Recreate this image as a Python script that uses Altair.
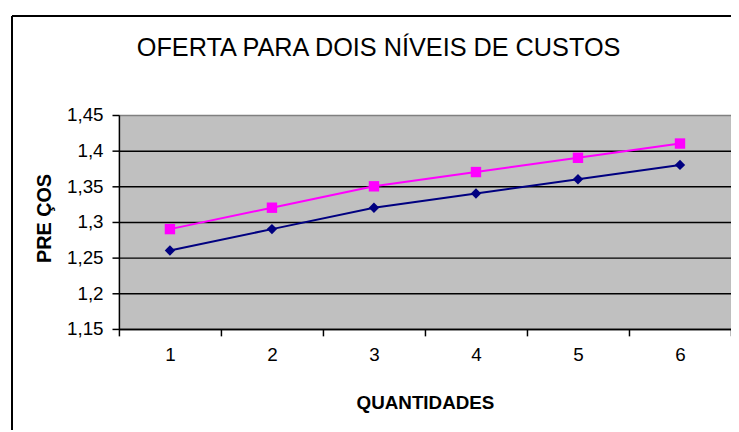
import altair as alt
import pandas as pd

titulo = "OFERTA PARA DOIS NÍVEIS DE CUSTOS"
quantidades = ["1", "2", "3", "4", "5", "6"]
custo_baixo = [1.26, 1.29, 1.32, 1.34, 1.36, 1.38]
custo_alto = [1.29, 1.32, 1.35, 1.37, 1.39, 1.41]
y_ticks = [1.15, 1.2, 1.25, 1.3, 1.35, 1.4, 1.45]

df = pd.DataFrame({
    "q": quantidades * 2,
    "p": custo_baixo + custo_alto,
    "serie": ["baixo"] * 6 + ["alto"] * 6,
})

FONT = "Liberation Sans, Arial, sans-serif"

x = alt.X("q:O", sort=quantidades,
          scale=alt.Scale(type="band", paddingInner=0, paddingOuter=0),
          axis=alt.Axis(title="QUANTIDADES", labelAngle=0, tickBand="extent",
                        labelFontSize=19, labelPadding=10, labelFont=FONT, labelColor="black",
                        titleFont=FONT, titleFontSize=19, titleFontWeight="bold",
                        titleColor="black", titleY=80, titleBaseline="alphabetic",
                        domainColor="black", domainWidth=1.5, tickColor="black",
                        tickSize=7, tickWidth=1.5, grid=False))
y = alt.Y("p:Q", scale=alt.Scale(domain=[1.15, 1.45], nice=False, zero=False),
          axis=alt.Axis(title="PRE ÇOS", values=y_ticks,
                        labelExpr="replace(format(datum.value, '.2~f'), '.', ',')",
                        labelFontSize=19, labelPadding=9, labelFont=FONT, labelColor="black",
                        titleFont=FONT, titleFontSize=20, titleFontWeight="bold",
                        titleColor="black", titleAngle=-90, titleX=-75, titleY=104,
                        titleBaseline="middle", titleAlign="center",
                        domainColor="black", domainWidth=1.5, tickColor="black",
                        tickSize=7, tickWidth=1.5, grid=True,
                        gridColor=alt.condition("datum.value >= 1.449", alt.value("#808080"), alt.value("black")),
                        gridWidth=1.5))

colors = alt.Scale(domain=["baixo", "alto"], range=["#000080", "#FF00FF"])
shapes = alt.Scale(domain=["baixo", "alto"], range=["diamond", "square"])

lines = alt.Chart(df).mark_line(strokeWidth=2).encode(
    x=x, y=y,
    color=alt.Color("serie:N", scale=colors, legend=None),
    detail="serie:N",
)
points = alt.Chart(df).mark_point(filled=True, size=110, opacity=1).encode(
    x=x, y=y,
    color=alt.Color("serie:N", scale=colors, legend=None),
    shape=alt.Shape("serie:N", scale=shapes, legend=None),
)

frame_left = alt.Chart(df).mark_rule(color="black", strokeWidth=1.5).encode(
    x=alt.value(-108), y=alt.value(-100), y2=alt.value(330))
frame_top = alt.Chart(df).mark_rule(color="black", strokeWidth=1.5).encode(
    x=alt.value(-108), x2=alt.value(640), y=alt.value(-100))

title_df = pd.DataFrame({"t": [titulo]})
title_mark = alt.Chart(title_df).mark_text(
    align="left", baseline="alphabetic", font=FONT, fontSize=25.5, color="black"
).encode(text="t:N", x=alt.value(18), y=alt.value(-60))

chart = alt.layer(frame_left, frame_top, lines, points, title_mark).properties(
    width=618, height=216,
    autosize=alt.AutoSizeParams(type="none"),
    padding={"left": 112, "top": 106, "right": 0, "bottom": 100},
    background="white",
).configure_view(fill="#C0C0C0", stroke="#808080", strokeWidth=1)

chart.save("out.html", embed_options={"renderer": "svg", "actions": False})
